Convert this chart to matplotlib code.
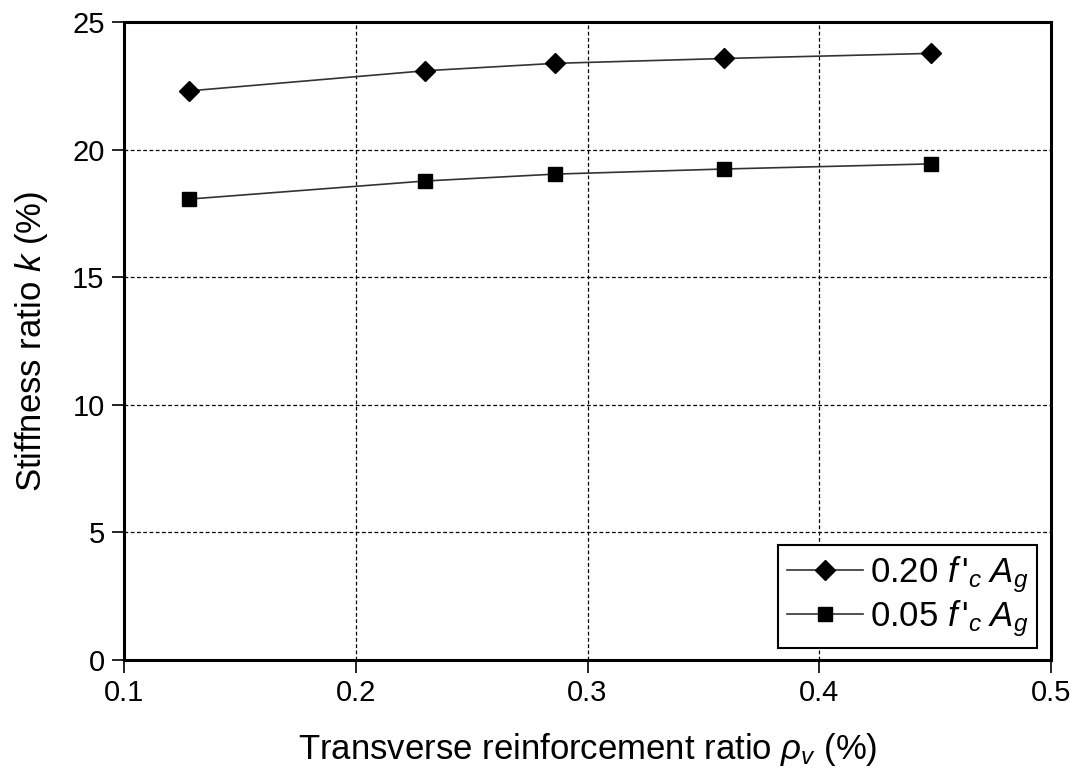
import matplotlib
matplotlib.use("Agg")
import matplotlib.pyplot as plt

plt.rcParams['font.family'] = ['Liberation Sans', 'DejaVu Sans']
plt.rcParams['mathtext.fontset'] = 'custom'
plt.rcParams['mathtext.rm'] = 'Liberation Sans'
plt.rcParams['mathtext.it'] = 'Liberation Sans:italic'

# data
rho_v = [0.128, 0.23, 0.286, 0.359, 0.448]
k_020 = [22.3, 23.09, 23.38, 23.57, 23.77]
k_005 = [18.06, 18.77, 19.04, 19.24, 19.44]
labels = ["0.20 $f\\,$'$_c\\;A_g$", "0.05 $f\\,$'$_c\\;A_g$"]
xticks = [0.1, 0.2, 0.3, 0.4, 0.5]
yticks = [0, 5, 10, 15, 20, 25]

fig = plt.figure(figsize=(10.86, 7.8), dpi=100)
ax = fig.add_axes([0.1142, 0.1538, 0.8536, 0.818])

ax.plot(rho_v, k_020, color='#333333', lw=1.2, marker='D', ms=10,
        mfc='black', mec='black', label=labels[0])
ax.plot(rho_v, k_005, color='#333333', lw=1.2, marker='s', ms=10,
        mfc='black', mec='black', label=labels[1])

ax.set_xlim(0.1, 0.5)
ax.set_ylim(0, 25)
ax.set_xticks(xticks)
ax.set_xticklabels([str(v) for v in xticks])
ax.set_yticks(yticks)
ax.grid(True, color='black', ls=(0, (3, 2)), lw=0.9)
ax.set_axisbelow(True)

for s in ax.spines.values():
    s.set_linewidth(2.2)
ax.tick_params(direction='out', length=9, width=1.2, labelsize=21, pad=5)

ax.set_xlabel(r'Transverse reinforcement ratio $\rho_v$ (%)', fontsize=25, labelpad=17)
ax.set_ylabel(r'Stiffness ratio $k$ (%)', fontsize=25, labelpad=16)

leg = ax.legend(loc='lower right', fontsize=25, fancybox=False, framealpha=1,
                edgecolor='black', borderpad=0.25, handlelength=2.2,
                handletextpad=0.2, labelspacing=0.1, borderaxespad=0,
                bbox_to_anchor=(0.985, 0.019))
leg.get_frame().set_linewidth(1.5)

fig.savefig('out.png', dpi=100)
